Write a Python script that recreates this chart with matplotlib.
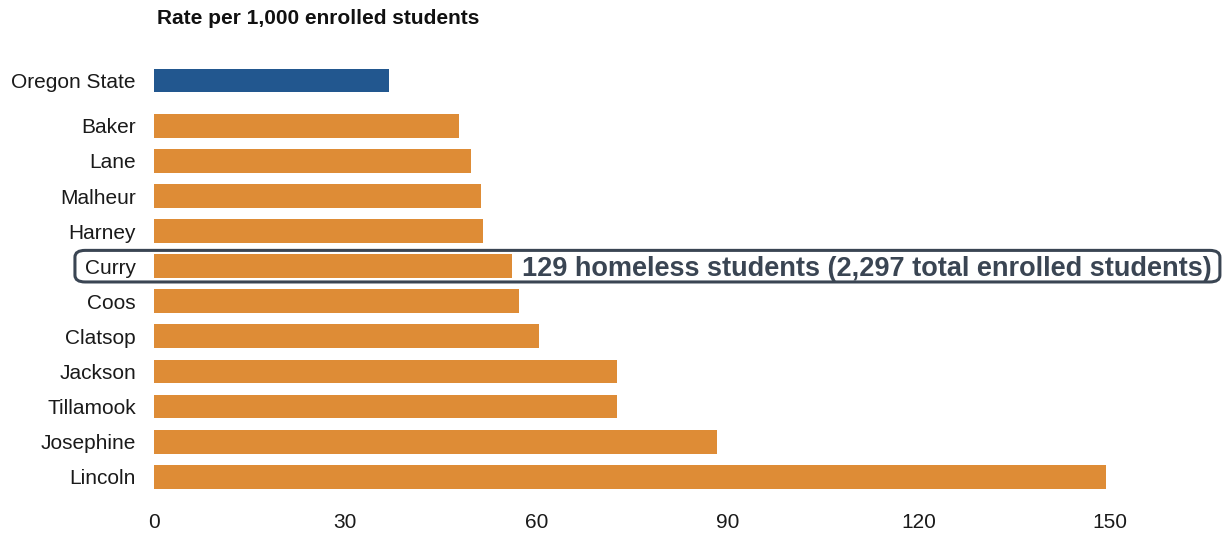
import matplotlib
matplotlib.use("Agg")
import matplotlib.pyplot as plt
from matplotlib.patches import FancyBboxPatch

plt.rcParams["font.family"] = ["Liberation Sans", "DejaVu Sans"]

# Homeless student rate per 1,000 enrolled, Oregon counties
state_label = "Oregon State"
state_rate = 36.8

counties = ["Baker", "Lane", "Malheur", "Harney", "Curry", "Coos",
            "Clatsop", "Jackson", "Tillamook", "Josephine", "Lincoln"]
rates = [47.9, 49.8, 51.3, 51.6, 56.2, 57.3, 60.4, 72.6, 72.6, 88.3, 149.4]

highlight = "Curry"
highlight_note = "129 homeless students (2,297 total enrolled students)"

x_ticks = [0, 30, 60, 90, 120, 150]

BLUE = "#22578f"
ORANGE = "#de8c36"
NOTE = "#3a4553"

fig = plt.figure(figsize=(12.31, 5.33), dpi=100)
ax = fig.add_axes([154 / 1231, 1 - 496 / 533, 1020 / 1231, 440 / 533])

gap = 1.29
state_y = 0
county_y = [gap + i for i in range(len(counties))]

ax.barh(state_y, state_rate, height=0.68, color=BLUE)
ax.barh(county_y, rates, height=0.68, color=ORANGE)

ax.set_yticks([state_y] + county_y)
ax.set_yticklabels([state_label] + counties, fontsize=15, color="#1a1a1a")
ax.set_xticks(x_ticks)
ax.set_xticklabels([str(t) for t in x_ticks], fontsize=15, color="#1a1a1a")
ax.tick_params(length=0)
ax.tick_params(axis="y", pad=13)
ax.tick_params(axis="x", pad=12)
ax.set_xlim(0, 160)
ax.set_ylim(county_y[-1] + 0.55, state_y - 0.7)
for s in ax.spines.values():
    s.set_visible(False)

# Callout for the highlighted county
hi = counties.index(highlight)
hy = county_y[hi]
ax.text(rates[hi] + 1.5, hy, highlight_note, fontsize=19.5, fontweight="bold",
        color=NOTE, va="center_baseline", ha="left")
box = FancyBboxPatch((-12.4, hy - 0.45), 179.6, 0.9,
                     boxstyle="round,pad=0,rounding_size=1.6",
                     mutation_aspect=0.12, fill=False, edgecolor=NOTE,
                     linewidth=2.2, clip_on=False)
ax.add_patch(box)

fig.text(157 / 1231, 1 - 19 / 533, "Rate per 1,000 enrolled students",
         fontsize=15, fontweight="bold", color="#111111", va="center", ha="left")

fig.savefig("out.png", dpi=100)
